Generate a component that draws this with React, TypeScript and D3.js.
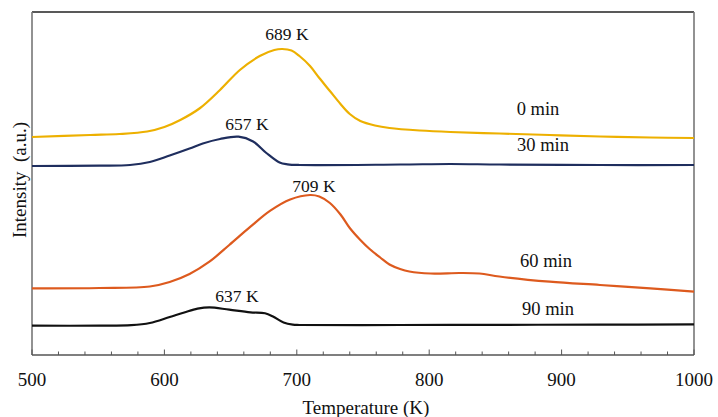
import React, { useEffect, useRef } from "react";
import * as d3 from "d3";

// TPD-like curves, temperature in K, intensity in arbitrary units (offset per curve)
const temp0 = [500, 544, 566, 587, 600, 612, 627, 642, 657, 672, 683, 689, 696, 702, 710, 717, 725, 733, 740, 748, 759, 770, 793, 816, 853, 891, 929, 967, 1000];
const int0 = [218, 220, 221, 223.5, 228, 235, 247, 265, 285, 299, 305, 306, 304.5, 299, 289, 277, 264, 251, 241, 234, 229.5, 227, 224.5, 223, 221.5, 220, 218.5, 217.5, 217];

const temp30 = [500, 551, 574, 589, 604, 619, 629, 642, 656, 667, 677, 687, 693, 702, 778, 816, 853, 929, 1000];
const int30 = [189, 189.3, 190, 193, 199.5, 206.5, 211.5, 216, 218.3, 213.5, 202, 192.5, 190.7, 190, 190.5, 191, 190.5, 190, 190];

const temp60 = [500, 551, 589, 604, 619, 634, 649, 665, 680, 695, 710, 717, 725, 733, 740, 748, 755, 763, 770, 778, 785, 801, 823, 838, 853, 891, 929, 967, 1000];
const int60 = [66.7, 67, 68.5, 73, 81, 93.3, 110, 128.3, 144.3, 155.5, 160, 158.5, 152, 140.5, 127, 115, 106, 97.5, 90.5, 86, 83.5, 81.5, 82, 81.5, 78.5, 73.3, 70, 66.7, 63.3];

const temp90 = [500, 551, 575, 589, 604, 615, 625, 634, 649, 665, 676, 682, 690, 697, 702, 778, 853, 929, 1000];
const int90 = [29.3, 29.3, 29.8, 32, 38, 42.5, 46.3, 47.7, 45.3, 42.7, 41.7, 38.5, 32.5, 30.3, 30, 30, 30.2, 30.3, 30.7];

const seriesNames = ["0 min", "30 min", "60 min", "90 min"];
const seriesColors = ["#EDB000", "#1F2E5E", "#DD5A1E", "#111111"];
const peakLabels = ["689 K", "657 K", "709 K", "637 K"];

const xTicks = [500, 600, 700, 800, 900, 1000];

const W = 718;
const H = 417;
const margin = { left: 32, right: 24, top: 12, bottom: 62 };
const serif = "'Liberation Serif', 'Times New Roman', serif";

const App = () => {
  const ref = useRef<SVGSVGElement>(null);

  useEffect(() => {
    const svg = d3.select(ref.current);
    svg.selectAll("*").remove();

    const x = d3.scaleLinear().domain([500, 1000]).range([margin.left, W - margin.right]);
    const y = d3.scaleLinear().domain([0, 343]).range([H - margin.bottom, margin.top]);

    const x0 = x(500), x1 = x(1000), y0 = y(0), y1 = y(343);

    // frame
    svg.append("line").attr("x1", x0).attr("x2", x1).attr("y1", y1).attr("y2", y1)
      .attr("stroke", "#222").attr("stroke-width", 1.3);
    svg.append("line").attr("x1", x0).attr("x2", x0).attr("y1", y1).attr("y2", y0)
      .attr("stroke", "#777").attr("stroke-width", 1.6);
    svg.append("line").attr("x1", x1).attr("x2", x1).attr("y1", y1).attr("y2", y0)
      .attr("stroke", "#777").attr("stroke-width", 1.6);

    // x axis, ticks pointing inward
    const minor = d3.range(500, 1001, 20).filter((t) => t % 100 !== 0);
    const g = svg.append("g").attr("transform", `translate(0, ${y0})`);
    g.append("line").attr("x1", x0).attr("x2", x1).attr("stroke", "#555").attr("stroke-width", 1.5);
    g.selectAll(".minor").data(minor).join("line")
      .attr("x1", (d) => x(d)).attr("x2", (d) => x(d)).attr("y1", 0).attr("y2", -3.5)
      .attr("stroke", "#555").attr("stroke-width", 1);
    g.selectAll(".major").data(xTicks).join("line")
      .attr("x1", (d) => x(d)).attr("x2", (d) => x(d)).attr("y1", 0).attr("y2", -5.5)
      .attr("stroke", "#555").attr("stroke-width", 1);
    g.selectAll(".lbl").data(xTicks).join("text")
      .attr("x", (d) => x(d)).attr("y", 31).attr("text-anchor", "middle")
      .attr("font-family", serif).attr("font-size", 19).attr("fill", "#111")
      .text((d) => d);

    svg.append("text").attr("x", 366).attr("y", 414).attr("text-anchor", "middle")
      .attr("font-family", serif).attr("font-size", 19).attr("fill", "#111")
      .text("Temperature (K)");

    svg.append("text").attr("transform", "translate(26, 180) rotate(-90)")
      .attr("text-anchor", "middle").attr("font-family", serif).attr("font-size", 19)
      .attr("fill", "#111").attr("xml:space", "preserve").style("white-space", "pre")
      .text("Intensity  (a.u.)");

    const temps = [temp0, temp30, temp60, temp90];
    const ints = [int0, int30, int60, int90];
    const line = d3.line<[number, number]>()
      .x((d) => x(d[0])).y((d) => y(d[1])).curve(d3.curveCatmullRom.alpha(0.5));

    temps.forEach((t, i) => {
      const pts = t.map((v, j) => [v, ints[i][j]] as [number, number]);
      svg.append("path").attr("d", line(pts)).attr("fill", "none")
        .attr("stroke", seriesColors[i]).attr("stroke-width", 2.2)
        .attr("stroke-linejoin", "round");
    });

    // peak labels
    const peakX = [287, 247, 314, 237];
    const peakY = [40, 130, 192, 302];
    peakLabels.forEach((lbl, i) => {
      svg.append("text").attr("x", peakX[i]).attr("y", peakY[i])
        .attr("text-anchor", "middle").attr("font-family", serif).attr("font-size", 17.5)
        .attr("fill", "#111").text(lbl);
    });

    // series names
    const nameX = [538, 543, 546, 548];
    const nameY = [115, 151, 267, 315];
    seriesNames.forEach((n, i) => {
      svg.append("text").attr("x", nameX[i]).attr("y", nameY[i]).attr("text-anchor", "middle")
        .attr("font-family", serif).attr("font-size", 18.5).attr("fill", "#111").text(n);
    });
  }, []);

  return (
    <div>
      <svg ref={ref} width={W} height={H}
        style={{ position: "absolute", left: 0, top: 0, background: "#fff" }} />
    </div>
  );
};

export default App;
